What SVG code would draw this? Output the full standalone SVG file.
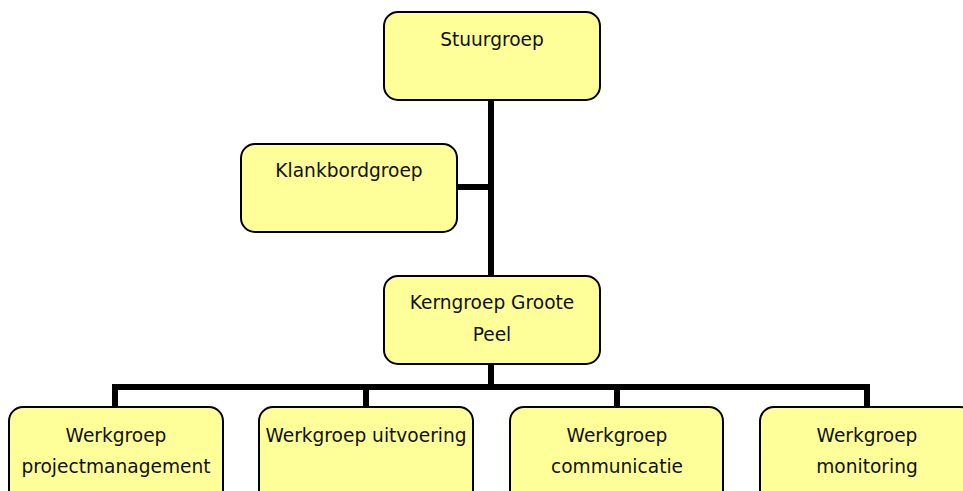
<svg xmlns="http://www.w3.org/2000/svg" width="963" height="491" viewBox="0 0 963 491">
<style>
.box{fill:#ffff99;stroke:#000;stroke-width:2}
.t{font-family:"DejaVu Sans","Verdana",sans-serif;font-size:18.6px;fill:#111;text-anchor:middle}
.c{stroke:#000;stroke-width:6;fill:none}
</style>
<rect width="963" height="491" fill="#fff"/>
<g id="connectors">
<line class="c" x1="491" y1="100" x2="491" y2="276"/>
<line class="c" x1="457" y1="187" x2="491" y2="187"/>
<line class="c" x1="491" y1="364" x2="491" y2="387"/>
<polyline class="c" points="115,407 115,387 867,387 867,407"/>
<line class="c" x1="366" y1="387" x2="366" y2="407"/>
<line class="c" x1="617" y1="387" x2="617" y2="407"/>
</g>
<g id="stuurgroep">
<rect class="box" x="384" y="12" width="216" height="88" rx="14"/>
<text class="t" x="492" y="46">Stuurgroep</text>
</g>
<g id="klankbordgroep">
<rect class="box" x="241" y="144" width="216" height="88" rx="14"/>
<text class="t" x="349" y="177">Klankbordgroep</text>
</g>
<g id="kerngroep">
<rect class="box" x="384" y="276" width="216" height="88" rx="14"/>
<text class="t" x="492" y="309">Kerngroep Groote</text>
<text class="t" x="492" y="341">Peel</text>
</g>
<g id="wg-projectmanagement">
<rect class="box" x="9" y="407" width="214" height="100" rx="14"/>
<text class="t" x="116" y="442">Werkgroep</text>
<text class="t" x="116" y="473">projectmanagement</text>
</g>
<g id="wg-uitvoering">
<rect class="box" x="259" y="407" width="214" height="100" rx="14"/>
<text class="t" x="366" y="442">Werkgroep uitvoering</text>
</g>
<g id="wg-communicatie">
<rect class="box" x="510" y="407" width="213" height="100" rx="14"/>
<text class="t" x="617" y="442">Werkgroep</text>
<text class="t" x="617" y="473">communicatie</text>
</g>
<g id="wg-monitoring">
<rect class="box" x="760" y="407" width="214" height="100" rx="14"/>
<text class="t" x="867" y="442">Werkgroep</text>
<text class="t" x="867" y="473">monitoring</text>
</g>
</svg>
